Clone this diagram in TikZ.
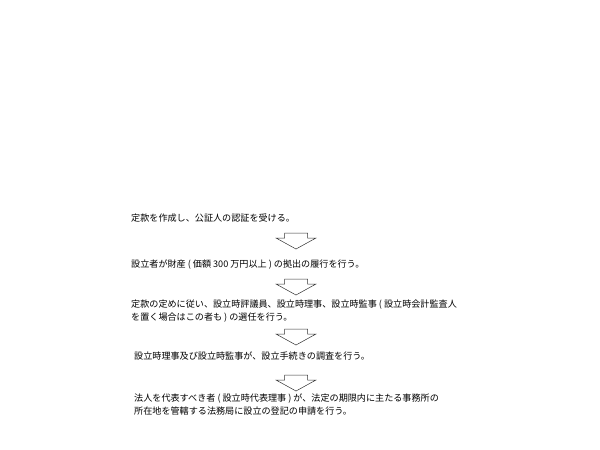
\documentclass[tikz,border=0pt]{standalone}
\usepackage{fontspec}
\newfontfamily\jp{Noto Sans CJK JP}
\begin{document}
\begin{tikzpicture}[x=1pt,y=-1pt,
  txt/.style={anchor=west,inner sep=0pt,align=left,font=\jp\fontsize{9.1}{13}\selectfont},
  downarrow/.pic={\draw[line width=0.5pt,black!80,line join=miter]
     (-11.5,0) -- (11.5,0) -- (11.5,5) -- (20,5) -- (0,16) -- (-20,5) -- (-11.5,5) -- cycle;}]
\useasboundingbox (0,0) rectangle (600,450);
\node[txt] (s1) at (131,218) {定款を作成し、公証人の認証を受ける。};
\pic at (296,233) {downarrow};
\node[txt] (s2) at (131,265) {設立者が財産 ( 価額 300 万円以上 ) の拠出の履行を行う。};
\pic at (296,279) {downarrow};
\node[txt] (s3) at (131,311.5) {定款の定めに従い、設立時評議員、設立時理事、設立時監事 ( 設立時会計監査人\\を置く場合はこの者も ) の選任を行う。};
\pic at (296,329) {downarrow};
\node[txt] (s4) at (134,356) {設立時理事及び設立時監事が、設立手続きの調査を行う。};
\pic at (296,375) {downarrow};
\node[txt] (s5) at (134,404.5) {法人を代表すべき者 ( 設立時代表理事 ) が、法定の期限内に主たる事務所の\\所在地を管轄する法務局に設立の登記の申請を行う。};
\end{tikzpicture}
\end{document}
